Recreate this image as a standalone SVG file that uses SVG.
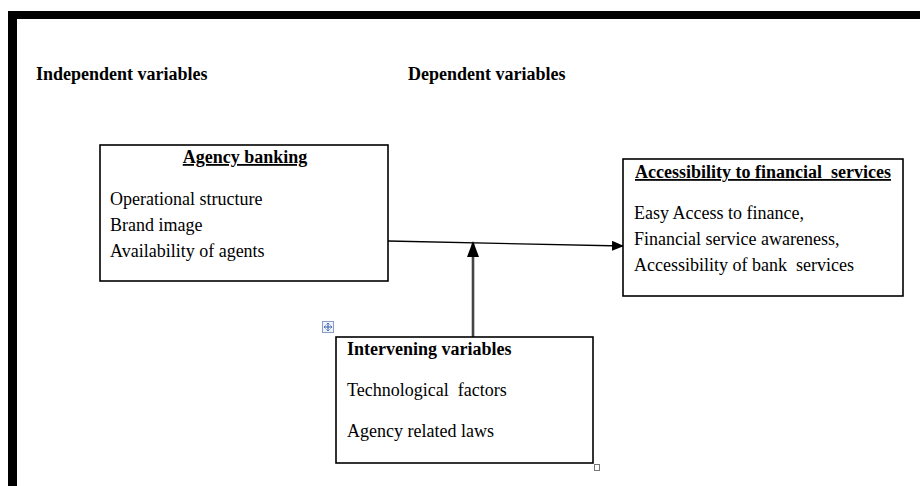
<svg xmlns="http://www.w3.org/2000/svg" width="920" height="486" viewBox="0 0 920 486">
<defs>
<style>
.t{font-family:"Liberation Serif","Times New Roman",serif;font-size:18px;fill:#000}
.b{font-weight:bold}
.u{text-decoration:underline}
.box{fill:#fff;stroke:#000;stroke-width:1.6}
</style>
<marker id="ah" markerWidth="12" markerHeight="10" refX="11" refY="5" orient="auto" markerUnits="userSpaceOnUse">
<path d="M0,0 L12,5 L0,10 Z" fill="#000"/>
</marker>
<marker id="ahv" markerWidth="16" markerHeight="12" refX="15" refY="6" orient="auto" markerUnits="userSpaceOnUse">
<path d="M0,0 L16,6 L0,12 Z" fill="#000"/>
</marker>
</defs>
<rect width="920" height="486" fill="#fff"/>
<g id="frame">
<rect x="8" y="11" width="912" height="8" fill="#000"/>
<rect x="8" y="11" width="9" height="475" fill="#000"/>
</g>
<g id="headers">
<text class="t b" x="36" y="80">Independent variables</text>
<text class="t b" x="408" y="80">Dependent variables</text>
</g>
<g id="connectors">
<line x1="388" y1="241" x2="623" y2="246" stroke="#000" stroke-width="1.3" marker-end="url(#ah)"/>
<line x1="473" y1="337" x2="473" y2="242" stroke="#444" stroke-width="2.6" marker-end="url(#ahv)"/>
</g>
<g id="agency">
<rect class="box" x="100" y="145" width="288" height="136"/>
<text class="t b u" x="245" y="163" text-anchor="middle">Agency banking</text>
<text class="t" x="110" y="205">Operational structure</text>
<text class="t" x="110" y="231">Brand image</text>
<text class="t" x="110" y="257">Availability of agents</text>
</g>
<g id="access">
<rect class="box" x="623" y="159" width="280" height="137"/>
<text class="t b u" x="635" y="178" xml:space="preserve">Accessibility to financial  services</text>
<text class="t" x="634" y="219">Easy Access to finance,</text>
<text class="t" x="634" y="245">Financial service awareness,</text>
<text class="t" x="634" y="271" xml:space="preserve">Accessibility of bank  services</text>
</g>
<g id="intervening">
<rect class="box" x="336" y="337" width="257" height="126"/>
<text class="t b" x="347" y="355">Intervening variables</text>
<text class="t" x="347" y="396" xml:space="preserve">Technological  factors</text>
<text class="t" x="347" y="437">Agency related laws</text>
</g>
<g id="handles">
<rect x="322.5" y="321.5" width="11" height="11" fill="#eef2fa" stroke="#8a9cc8" stroke-width="1"/>
<path d="M328,323.5 V330.5 M324.5,327 H331.5" stroke="#3a5fb0" stroke-width="1"/>
<path d="M326.5,324.5 L328,323 L329.5,324.5 M326.5,329.5 L328,331 L329.5,329.5 M325.5,325.5 L324,327 L325.5,328.5 M330.5,325.5 L332,327 L330.5,328.5" stroke="#3a5fb0" stroke-width="0.8" fill="none"/>
<rect x="594.5" y="464.5" width="5" height="6" fill="#fff" stroke="#777" stroke-width="1"/>
</g>
</svg>
